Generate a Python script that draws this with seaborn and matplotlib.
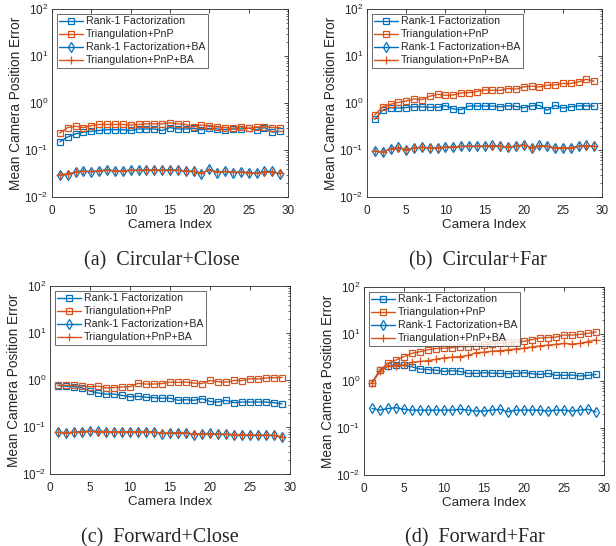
import numpy as np
import pandas as pd
import matplotlib
matplotlib.use("Agg")
import matplotlib.pyplot as plt
import seaborn as sns
from matplotlib.ticker import LogLocator, NullFormatter

sns.set_style("white")
plt.rcParams['font.family'] = ['Liberation Sans', 'DejaVu Sans']
plt.rcParams['mathtext.default'] = 'regular'

cam = list(range(1, 30))
series_names = ["Rank-1 Factorization", "Triangulation+PnP",
                "Rank-1 Factorization+BA", "Triangulation+PnP+BA"]
captions = ["(a)  Circular+Close", "(b)  Circular+Far",
            "(c)  Forward+Close", "(d)  Forward+Far"]

# (a) Circular+Close
a_rank1 = [0.15, 0.19, 0.22, 0.24, 0.25, 0.26, 0.27, 0.27, 0.27, 0.26, 0.28, 0.28, 0.28, 0.26, 0.30,
           0.28, 0.28, 0.29, 0.27, 0.29, 0.28, 0.27, 0.28, 0.28, 0.29, 0.27, 0.30, 0.24, 0.25]
a_pnp = [0.23, 0.30, 0.32, 0.30, 0.33, 0.35, 0.35, 0.35, 0.35, 0.34, 0.35, 0.36, 0.36, 0.36, 0.38,
         0.36, 0.35, 0.31, 0.34, 0.32, 0.31, 0.30, 0.29, 0.31, 0.29, 0.31, 0.31, 0.30, 0.30]
a_rank1_ba = [0.030, 0.030, 0.034, 0.036, 0.034, 0.036, 0.038, 0.036, 0.036, 0.037, 0.037, 0.038, 0.038, 0.037, 0.038,
              0.037, 0.036, 0.035, 0.031, 0.039, 0.033, 0.035, 0.033, 0.034, 0.033, 0.032, 0.035, 0.035, 0.031]
a_pnp_ba = [0.030, 0.031, 0.034, 0.035, 0.035, 0.036, 0.037, 0.036, 0.036, 0.037, 0.037, 0.038, 0.038, 0.037, 0.037,
            0.037, 0.036, 0.035, 0.032, 0.038, 0.034, 0.035, 0.034, 0.034, 0.033, 0.032, 0.034, 0.034, 0.032]

# (b) Circular+Far
b_rank1 = [0.45, 0.71, 0.79, 0.78, 0.80, 0.83, 0.83, 0.81, 0.81, 0.88, 0.75, 0.72, 0.86, 0.86, 0.86,
           0.86, 0.83, 0.87, 0.85, 0.79, 0.87, 0.89, 0.70, 0.89, 0.78, 0.83, 0.87, 0.87, 0.86]
b_pnp = [0.56, 0.83, 0.94, 1.03, 1.10, 1.22, 1.18, 1.39, 1.53, 1.46, 1.48, 1.64, 1.66, 1.75, 1.90,
         1.87, 1.86, 2.03, 1.97, 2.20, 2.28, 2.20, 2.39, 2.43, 2.60, 2.60, 2.80, 3.20, 2.90]
b_rank1_ba = [0.095, 0.090, 0.105, 0.115, 0.100, 0.110, 0.115, 0.110, 0.110, 0.115, 0.115, 0.120, 0.120, 0.120, 0.120,
              0.125, 0.120, 0.115, 0.120, 0.130, 0.110, 0.125, 0.120, 0.110, 0.110, 0.110, 0.120, 0.125, 0.120]
b_pnp_ba = [0.095, 0.091, 0.105, 0.113, 0.102, 0.110, 0.114, 0.111, 0.111, 0.115, 0.116, 0.119, 0.120, 0.120, 0.120,
            0.123, 0.120, 0.117, 0.120, 0.127, 0.112, 0.123, 0.119, 0.112, 0.111, 0.112, 0.119, 0.124, 0.119]

# (c) Forward+Close
c_rank1 = [0.76, 0.74, 0.72, 0.68, 0.58, 0.53, 0.50, 0.50, 0.47, 0.44, 0.45, 0.43, 0.42, 0.41, 0.41,
           0.37, 0.38, 0.37, 0.40, 0.35, 0.34, 0.37, 0.33, 0.34, 0.34, 0.34, 0.34, 0.33, 0.31]
c_pnp = [0.78, 0.77, 0.77, 0.74, 0.72, 0.74, 0.68, 0.69, 0.71, 0.72, 0.85, 0.82, 0.82, 0.84, 0.90,
         0.89, 0.90, 0.86, 0.84, 0.98, 0.92, 0.90, 0.98, 0.97, 1.07, 1.05, 1.10, 1.12, 1.13]
c_rank1_ba = [0.077, 0.075, 0.077, 0.080, 0.082, 0.081, 0.080, 0.079, 0.079, 0.079, 0.080, 0.080, 0.079, 0.072, 0.075,
              0.076, 0.076, 0.069, 0.072, 0.073, 0.070, 0.070, 0.068, 0.069, 0.067, 0.066, 0.067, 0.066, 0.061]
c_pnp_ba = [0.077, 0.076, 0.077, 0.079, 0.081, 0.080, 0.080, 0.079, 0.079, 0.079, 0.080, 0.079, 0.078, 0.073, 0.075,
            0.075, 0.075, 0.070, 0.072, 0.072, 0.070, 0.070, 0.069, 0.069, 0.068, 0.067, 0.067, 0.066, 0.062]

# (d) Forward+Far
d_rank1 = [0.92, 1.71, 2.08, 2.20, 2.15, 2.00, 1.80, 1.75, 1.70, 1.60, 1.65, 1.60, 1.45, 1.45, 1.50,
           1.47, 1.45, 1.43, 1.45, 1.50, 1.43, 1.38, 1.45, 1.32, 1.32, 1.34, 1.28, 1.32, 1.38]
d_pnp = [0.92, 1.70, 2.40, 2.80, 3.30, 3.90, 4.20, 4.60, 4.90, 5.00, 5.10, 5.40, 5.40, 5.60, 5.90,
         6.10, 6.30, 6.60, 6.70, 7.00, 7.60, 8.20, 8.40, 8.60, 9.50, 9.50, 9.80, 10.3, 11.1]
d_rank1_ba = [0.26, 0.24, 0.26, 0.27, 0.25, 0.24, 0.24, 0.24, 0.24, 0.24, 0.24, 0.25, 0.24, 0.23, 0.23,
              0.24, 0.25, 0.22, 0.24, 0.24, 0.24, 0.24, 0.23, 0.24, 0.24, 0.23, 0.24, 0.25, 0.22]
d_pnp_ba = [0.90, 1.60, 2.10, 2.10, 2.20, 2.50, 2.60, 2.70, 2.90, 3.10, 3.20, 3.30, 3.50, 4.00, 4.10,
            4.30, 4.40, 4.60, 4.80, 5.00, 5.30, 5.60, 5.80, 6.00, 6.30, 6.10, 6.30, 6.90, 7.50]

panel_data = [
    [a_rank1, a_pnp, a_rank1_ba, a_pnp_ba],
    [b_rank1, b_pnp, b_rank1_ba, b_pnp_ba],
    [c_rank1, c_pnp, c_rank1_ba, c_pnp_ba],
    [d_rank1, d_pnp, d_rank1_ba, d_pnp_ba],
]

blue = "#0072BD"
orange = "#D95319"
styles = [
    dict(color=blue, marker="s", ms=4.5, mfc="none", mec=blue, mew=0.9),
    dict(color=orange, marker="s", ms=4.5, mfc="none", mec=orange, mew=0.9),
    dict(color=blue, marker="d", ms=5.5, mfc="none", mec=blue, mew=0.9),
    dict(color=orange, marker="+", ms=5.5, mfc="none", mec=orange, mew=0.9),
]

W, H = 616, 546
fig = plt.figure(figsize=(W / 100, H / 100), dpi=100)
boxes = [
    (52, 9, 288, 197),
    (367, 9, 602, 197),
    (50, 286, 290, 474),
    (364, 287, 604, 475),
]
cap_x = [162, 478, 160, 475]
cap_y = [265, 265, 542, 542]

for i, (x0, y0, x1, y1) in enumerate(boxes):
    ax = fig.add_axes([x0 / W, 1 - y1 / H, (x1 - x0) / W, (y1 - y0) / H])
    for j, name in enumerate(series_names):
        df = pd.DataFrame({"Camera Index": cam, "Error": panel_data[i][j]})
        sns.lineplot(data=df, x="Camera Index", y="Error", ax=ax, label=name,
                     lw=1.0, **styles[j])
    ax.set_yscale("log")
    ax.set_ylim(1e-2, 1e2)
    ax.set_xlim(0, 30)
    ax.set_xticks([0, 5, 10, 15, 20, 25, 30])
    ax.set_yticks([1e-2, 1e-1, 1e0, 1e1, 1e2])
    ax.yaxis.set_minor_locator(LogLocator(base=10, subs=np.arange(2, 10), numticks=20))
    ax.yaxis.set_minor_formatter(NullFormatter())
    ax.tick_params(which="both", direction="in", top=True, right=True, labelsize=8.5,
                   color="#262626", labelcolor="#262626")
    ax.tick_params(axis="x", pad=6)
    ax.tick_params(axis="y", pad=2.5)
    ax.tick_params(which="major", length=3, width=0.6)
    ax.tick_params(which="minor", length=1.5, width=0.5)
    for s in ax.spines.values():
        s.set_color("#262626")
        s.set_linewidth(0.6)
    ax.set_xlabel("Camera Index", fontsize=9.6, color="#262626", labelpad=1.5)
    ax.set_ylabel("Mean Camera Position Error", fontsize=9.8, color="#262626")
    ax.yaxis.set_label_coords(-29 / (x1 - x0), 0.5)
    leg = ax.legend(loc="upper left", fontsize=7.7, frameon=True, fancybox=False,
                    edgecolor="#262626", borderpad=0.25, labelspacing=0.28,
                    handlelength=2.2, handletextpad=0.25, borderaxespad=0.45)
    leg.get_frame().set_linewidth(0.6)
    fig.text(cap_x[i] / W, 1 - cap_y[i] / H, captions[i], ha="center", va="baseline",
             fontsize=14.5, family=["Liberation Serif", "DejaVu Serif"])

fig.savefig("out.png", dpi=100)
